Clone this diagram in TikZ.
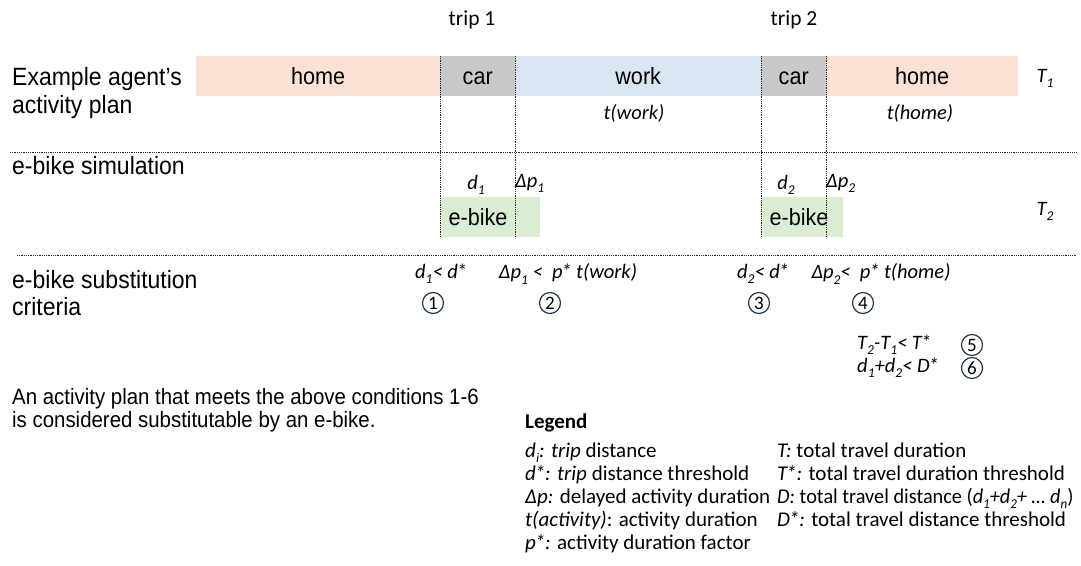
\documentclass[tikz,border=0pt]{standalone}
\usepackage{fontspec}
\usepackage{graphicx}
\setmainfont{Liberation Sans}
\newfontfamily\arn[FakeStretch=0.92]{Liberation Sans}
\newfontfamily\carl{Carlito}
\usetikzlibrary{calc}
\definecolor{homecol}{HTML}{FCE2D5}
\definecolor{workcol}{HTML}{DAE5F4}
\definecolor{carcol}{HTML}{C9C9C9}
\definecolor{bikecol}{HTML}{DAEDD2}
\definecolor{circcol}{HTML}{223A52}
\newcommand\sbs[1]{\raisebox{-0.25em}{\fontsize{13.5}{13.5}\selectfont #1}}
\newcommand\st{\kern-0.06em*}
\tikzset{
  bar/.style={inner sep=0pt, minimum height=40pt, anchor=north west, text height=17pt, text depth=0pt, font=\arn\fontsize{23.5}{26}\selectfont},
  dotline/.style={line width=0.9pt, dash pattern=on 0.9pt off 0.9pt, black!85},
  lbl/.style={inner sep=0pt, anchor=base west, font=\arn\fontsize{25}{28}\selectfont},
  small/.style={inner sep=0pt, anchor=base west, font=\arn\fontsize{22.2}{25}\selectfont},
  cal/.style={inner sep=0pt, font=\carl\fontsize{21.5}{24}\selectfont},
  calit/.style={inner sep=0pt, font=\carl\itshape\fontsize{20.5}{24}\selectfont},
  leg/.style={inner sep=0pt, anchor=base west, font=\carl\fontsize{21}{24}\selectfont},
  num/.style={circle, draw=circcol, line width=1.2pt, minimum size=21pt, inner sep=0pt, font=\carl\fontsize{19}{19}\selectfont},
}
\begin{document}
\begin{tikzpicture}[x=1pt,y=-1pt]
\useasboundingbox (0,0) rectangle (1081,565);
% activity plan bar
\node[bar, fill=homecol, minimum width=244pt] (home1) at (196,56) {home};
\node[bar, fill=carcol, minimum width=75pt] (car1) at (440,56) {car};
\node[bar, fill=workcol, minimum width=246pt] (work) at (515,56) {work};
\node[bar, fill=carcol, minimum width=65pt] (car2) at (761,56) {car};
\node[bar, fill=homecol, minimum width=192pt] (home2) at (826,56) {home};
% e-bike boxes
\node[bar, fill=bikecol, minimum width=100pt, minimum height=40pt] (eb1) at (440,197) {};
\node[bar, fill=bikecol, minimum width=82pt, minimum height=40pt] (eb2) at (761,197) {};
\node[bar, anchor=center, minimum height=0pt] (eb1t) at (478,217) {e-bike};
\node[bar, anchor=center, minimum height=0pt] (eb2t) at (799,217) {e-bike};
% vertical dotted lines
\draw[dotline] (car1.north west) -- (car1.north west |- eb1.south);
\draw[dotline] (car1.north east) -- (car1.north east |- eb1.south);
\draw[dotline] (car2.north west) -- (car2.north west |- eb2.south);
\draw[dotline] (car2.north east) -- (car2.north east |- eb2.south);
% horizontal dotted lines
\coordinate (h1a) at (10,152); \coordinate (h1b) at (1076,152);
\coordinate (h2a) at (17,255); \coordinate (h2b) at (1076,255);
\draw[dotline] (h1a) -- (h1b);
\draw[dotline] (h2a) -- (h2b);
% top labels
\node[cal] (trip1) at (472,20) {trip 1};
\node[cal] (trip2) at (794,20) {trip 2};
\node[calit] (T1) at (1045,78) {T\sbs{1}};
\node[calit] (T2) at (1045,211) {T\sbs{2}};
\node[calit] (tw) at (634,113) {t(work)};
\node[calit] (th) at (920,113) {t(home)};
\node[calit] (d1) at (476,185) {d\sbs{1}};
\node[calit, anchor=west] (dp1) at (515,183) {Δp\sbs{1}};
\node[calit] (d2) at (786,185) {d\sbs{2}};
\node[calit, anchor=west] (dp2) at (826,183) {Δp\sbs{2}};
% left labels
\node[lbl] (l1) at (12,85) {Example agent’s};
\node[lbl] (l2) at (12,113) {activity plan};
\node[lbl] (l3) at (12,174) {e-bike simulation};
\node[lbl] (l4) at (12,288) {e-bike substitution};
\node[lbl] (l5) at (12,315) {criteria};
\node[small] (l6) at (12,404) {An activity plan that meets the above conditions 1-6};
\node[small] (l7) at (12,427) {is considered substitutable by an e-bike.};
% criteria
\node[calit] (c1) at (441,274) {d\sbs{1}< d\st};
\node[calit] (c2) at (568,274) {Δp\sbs{1} < ~p\st{} t(work)};
\node[calit] (c3) at (763,274) {d\sbs{2}< d\st};
\node[calit] (c4) at (881,274) {Δp\sbs{2}< ~p\st{} t(home)};
\node[calit, anchor=west] (c5) at (857,345) {T\sbs{2}-T\sbs{1}< T\st};
\node[calit, anchor=west] (c6) at (857,368) {d\sbs{1}+d\sbs{2}< D\st};
\node[num] (n1) at (433,303) {1};
\node[num] (n2) at (550,303) {2};
\node[num] (n3) at (759,303) {3};
\node[num] (n4) at (863,303) {4};
\node[num] (n5) at (972,345) {5};
\node[num] (n6) at (972,368) {6};
% legend
\node[leg, font=\carl\bfseries\fontsize{21}{24}\selectfont] (leg) at (525,428) {Legend};
\node[leg] (g1) at (525,457) {\textit{d\sbs{i}: trip} distance};
\node[leg] (g2) at (525,480) {\textit{d\st: trip} distance threshold};
\node[leg] (g3) at (525,503) {\textit{Δp:} delayed activity duration};
\node[leg] (g4) at (525,526) {\textit{t(activity)}: activity duration};
\node[leg] (g5) at (525,549) {\textit{p\st:} activity duration factor};
\node[leg] (g6) at (777,457) {\textit{T:} total travel duration};
\node[leg] (g7) at (777,480) {\textit{T\st:} total travel duration threshold};
\node[leg] (g8) at (777,503) {\scalebox{0.965}[1]{\textit{D:} total travel distance (\textit{d\sbs{1}+d\sbs{2}+ … d\sbs{n}})}};
\node[leg] (g9) at (777,526) {\textit{D\st:} total travel distance threshold};
\end{tikzpicture}
\end{document}
